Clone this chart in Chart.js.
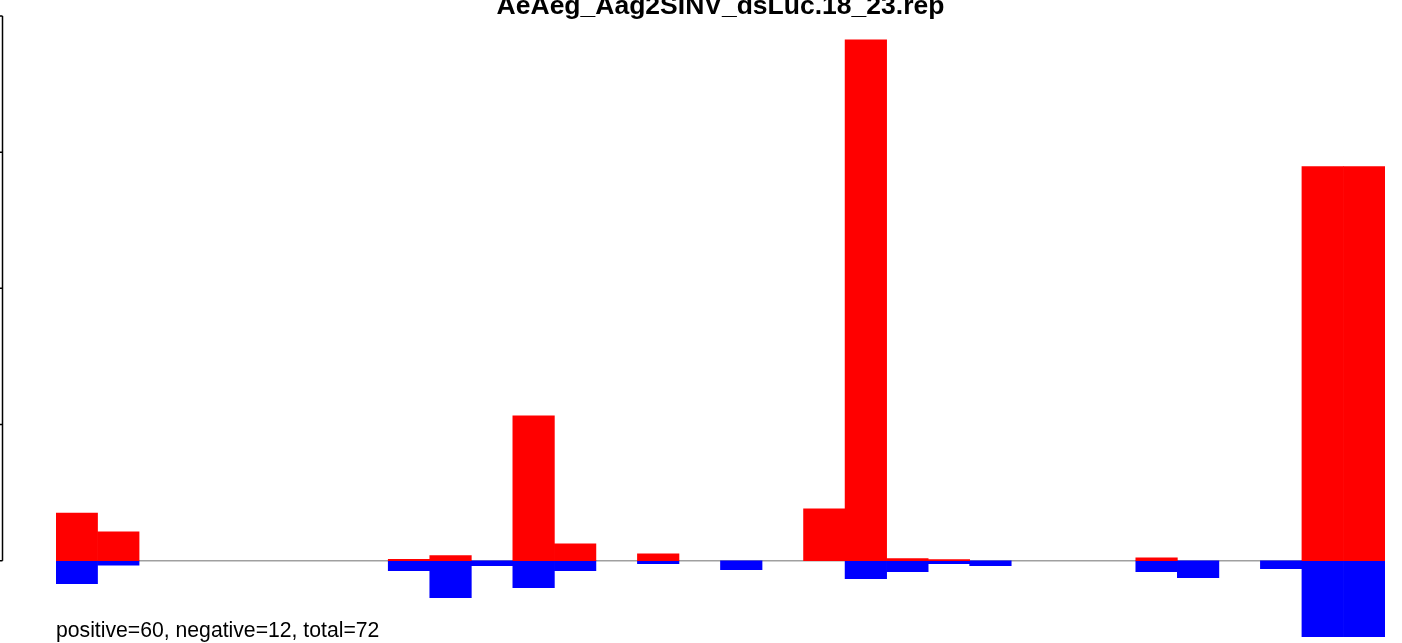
<!DOCTYPE html>
<html>
<head>
<meta charset="utf-8">
<script src="https://cdn.jsdelivr.net/npm/chart.js@4.4.1/dist/chart.umd.min.js"></script>
<style>
  body { margin: 0; background: #ffffff; }
  canvas { display: block; }
</style>
</head>
<body>
<canvas id="chart" width="1402" height="643"></canvas>
<script>
const titleText = 'AeAeg_Aag2SINV_dsLuc.18_23.rep';
const footerText = 'positive=60, negative=12, total=72';

const categories = ['1', '2', '3', '4', '5', '6', '7', '8', '9', '10', '11', '12', '13', '14', '15', '16',
  '17', '18', '19', '20', '21', '22', '23', '24', '25', '26', '27', '28', '29', '30', '31', '32'];

const positiveValues = [35, 21.3, 0, 0, 0, 0, 0, 0, 1.1, 3.7, 0, 106.5, 12.5, 0, 5.1, 0,
  0, 0, 38.2, 382.5, 1.5, 0.8, 0, 0, 0, 0, 2.2, 0, 0, 0, 289.5, 289.5];

const negativeValues = [-16.9, -3.2, 0, 0, 0, 0, 0, 0, -7.3, -27.2, -3.7, -19.8, -7.3, 0, -2.2, 0,
  -6.6, 0, 0, -13.2, -8.1, -2.2, -3.7, 0, 0, 0, -8.1, -12.5, 0, -5.9, -55.8, -55.8];

const yTicks = [0, 100, 200, 300, 400];

// empty bins get no bar at all (a zero-height bar still leaves a hairline)
const skipZero = (arr) => arr.map((v) => (v === 0 ? null : v));

const decorPlugin = {
  id: 'decor',
  beforeDatasetsDraw(chart) {
    const ctx = chart.ctx;
    const area = chart.chartArea;
    const y0 = chart.scales.y.getPixelForValue(0);
    ctx.save();
    ctx.strokeStyle = '#a0a0a0';
    ctx.lineWidth = 1.5;
    ctx.beginPath();
    ctx.moveTo(area.left, y0);
    ctx.lineTo(area.right, y0);
    ctx.stroke();
    ctx.restore();
  },
  afterDraw(chart) {
    const ctx = chart.ctx;
    const area = chart.chartArea;
    const yScale = chart.scales.y;
    const axisX = 2.5;
    ctx.save();

    // left axis, sitting at the very edge of the page
    ctx.strokeStyle = '#000000';
    ctx.lineWidth = 1.5;
    ctx.beginPath();
    ctx.moveTo(axisX, yScale.getPixelForValue(yTicks[0]));
    ctx.lineTo(axisX, yScale.getPixelForValue(yTicks[yTicks.length - 1]));
    yTicks.forEach((v) => {
      const py = yScale.getPixelForValue(v);
      ctx.moveTo(axisX, py);
      ctx.lineTo(-6, py);
    });
    ctx.stroke();

    ctx.fillStyle = '#000000';
    ctx.font = 'bold 26.5px "Liberation Sans", Arial, sans-serif';
    ctx.textAlign = 'center';
    ctx.textBaseline = 'alphabetic';
    ctx.fillText(titleText, (area.left + area.right) / 2, 14);

    ctx.font = '21.2px "Liberation Sans", Arial, sans-serif';
    ctx.textAlign = 'left';
    ctx.fillText(footerText, area.left, 637);
    ctx.restore();
  }
};

new Chart(document.getElementById('chart').getContext('2d'), {
  type: 'bar',
  data: {
    labels: categories,
    datasets: [
      {
        label: 'positive',
        data: skipZero(positiveValues),
        backgroundColor: '#ff0000',
        borderWidth: 0,
        barPercentage: 1,
        categoryPercentage: 1
      },
      {
        label: 'negative',
        data: skipZero(negativeValues),
        backgroundColor: '#0000ff',
        borderWidth: 0,
        barPercentage: 1,
        categoryPercentage: 1
      }
    ]
  },
  options: {
    responsive: false,
    animation: false,
    layout: {
      padding: { left: 56, right: 17, top: 16, bottom: 0 }
    },
    scales: {
      x: { display: false, stacked: true, offset: true },
      y: { display: false, stacked: true, min: -60.4, max: 400 }
    },
    plugins: {
      legend: { display: false },
      tooltip: { enabled: false }
    }
  },
  plugins: [decorPlugin]
});
</script>
</body>
</html>
